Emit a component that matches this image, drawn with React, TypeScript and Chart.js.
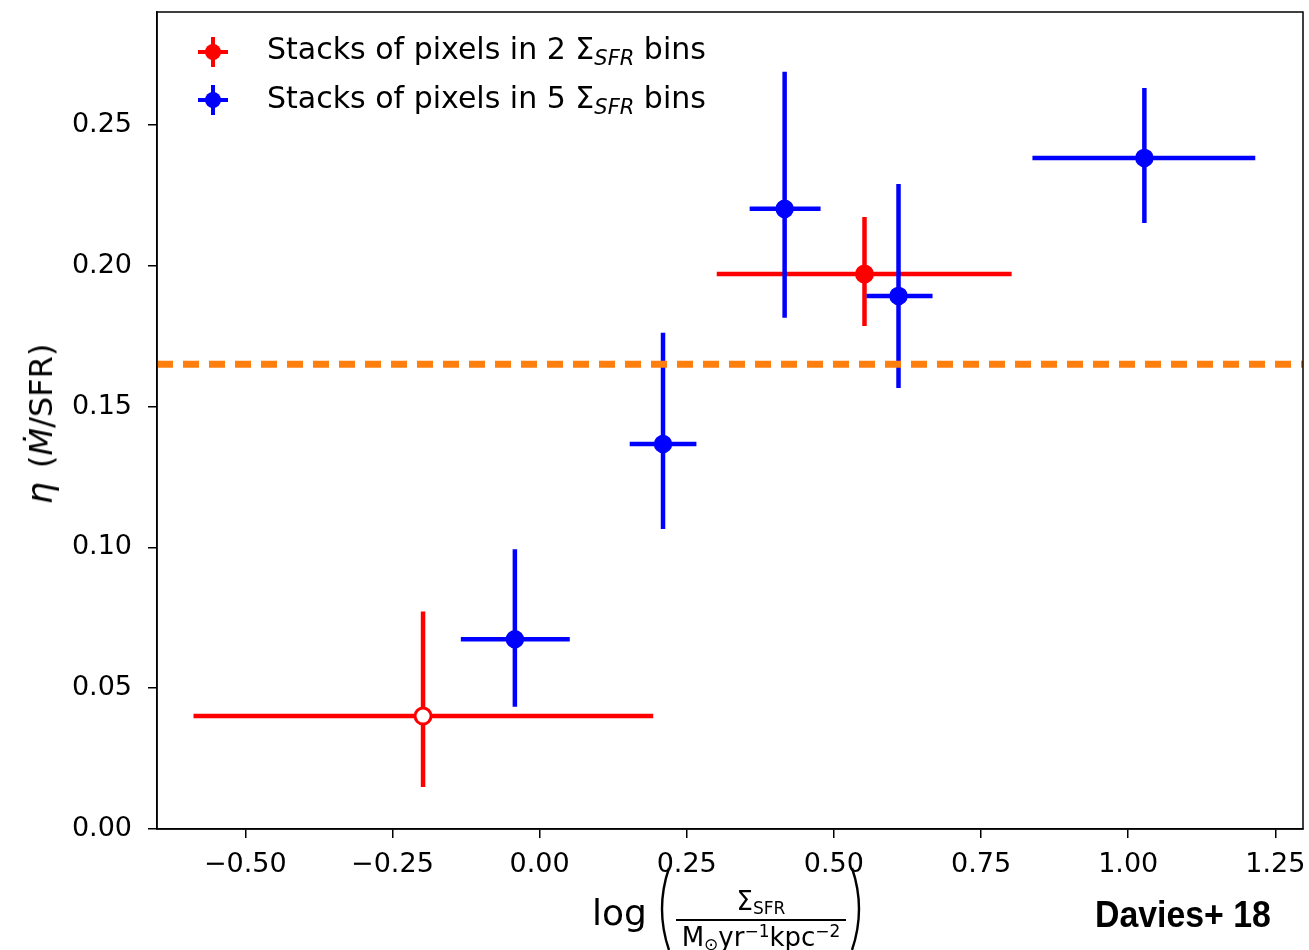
import React, { useEffect, useRef } from "react";
import { Chart, registerables } from "chart.js";

Chart.register(...registerables);

// ---- data ----
const redX = [-0.198, 0.552];
const redY = [0.0401, 0.1971];
const redXLo = [-0.588, 0.301];
const redXHi = [0.193, 0.802];
const redYLo = [0.0149, 0.1786];
const redYHi = [0.0772, 0.2173];
const redOpen = [true, false];

const blueX = [-0.042, 0.2097, 0.4163, 0.6098, 1.0275];
const blueY = [0.0674, 0.1367, 0.2202, 0.1893, 0.2383];
const blueXLo = [-0.1338, 0.1531, 0.3569, 0.5555, 0.8373];
const blueXHi = [0.0513, 0.2664, 0.4774, 0.6676, 1.2159];
const blueYLo = [0.0434, 0.1065, 0.1815, 0.1566, 0.2152];
const blueYHi = [0.0993, 0.1762, 0.2689, 0.229, 0.2631];

const etaRef = 0.165;

const xTicks = [-0.5, -0.25, 0, 0.25, 0.5, 0.75, 1.0, 1.25];
const yTicks = [0, 0.05, 0.1, 0.15, 0.2, 0.25];
const xRange = [-0.65, 1.297];
const yRange = [0, 0.2901];

const RED = "#ff0000";
const BLUE = "#0000ff";
const ORANGE = "#ff7f0e";
const FONT = "'DejaVu Sans', sans-serif";

function errorBars(
  xs: number[], ys: number[], xlo: number[], xhi: number[], ylo: number[], yhi: number[],
  color: string, order: number
) {
  const out: any[] = [];
  xs.forEach((x, i) => {
    const common = {
      showLine: true,
      borderColor: color,
      borderWidth: 4.5,
      pointRadius: 0,
      pointHoverRadius: 0,
      borderCapStyle: "butt",
      order,
    };
    out.push({ ...common, data: [{ x: xlo[i], y: ys[i] }, { x: xhi[i], y: ys[i] }] });
    out.push({ ...common, data: [{ x, y: ylo[i] }, { x, y: yhi[i] }] });
  });
  return out;
}

function fmt(v: number) {
  const s = Math.abs(v).toFixed(2);
  return v < -1e-9 ? "\u2212" + s : s;
}

const framePlugin = {
  id: "frame",
  afterDatasetsDraw(chart: any) {
    const { ctx, chartArea } = chart;
    ctx.save();
    ctx.strokeStyle = "#000";
    ctx.lineWidth = 1.5;
    ctx.strokeRect(chartArea.left, chartArea.top, chartArea.right - chartArea.left, chartArea.bottom - chartArea.top);
    ctx.restore();
  },
};

function LegendMarker({ color, top }: { color: string; top: number }) {
  const cx = 213;
  return (
    <>
      <div style={{ position: "absolute", left: cx - 15, top: top - 2, width: 30, height: 4, background: color }} />
      <div style={{ position: "absolute", left: cx - 2, top: top - 15, width: 4, height: 30, background: color }} />
      <div style={{ position: "absolute", left: cx - 8, top: top - 8, width: 16, height: 16, borderRadius: 8, background: color }} />
    </>
  );
}

function Paren({ left, flip }: { left: number; flip?: boolean }) {
  return (
    <svg style={{ position: "absolute", left, top: 867, overflow: "visible" }} width={16} height={84}>
      <path
        d={flip ? "M 3 1 Q 17 42 3 83" : "M 13 1 Q -1 42 13 83"}
        fill="none"
        stroke="#000"
        strokeWidth={2.4}
      />
    </svg>
  );
}

export default function App() {
  const ref = useRef<HTMLCanvasElement | null>(null);

  useEffect(() => {
    if (!ref.current) return;
    const datasets: any[] = [
      ...errorBars(redX, redY, redXLo, redXHi, redYLo, redYHi, RED, 40),
      {
        data: redX.map((x, i) => ({ x, y: redY[i] })),
        pointRadius: 8,
        pointHoverRadius: 8,
        pointBorderWidth: 3,
        pointBorderColor: RED,
        pointBackgroundColor: redOpen.map((o) => (o ? "#ffffff" : RED)),
        showLine: false,
        order: 30,
      },
      ...errorBars(blueX, blueY, blueXLo, blueXHi, blueYLo, blueYHi, BLUE, 20),
      {
        data: blueX.map((x, i) => ({ x, y: blueY[i] })),
        pointRadius: 8.5,
        pointHoverRadius: 8.5,
        pointBorderWidth: 1.5,
        pointBorderColor: BLUE,
        pointBackgroundColor: BLUE,
        showLine: false,
        order: 10,
      },
      {
        data: [{ x: xRange[0], y: etaRef }, { x: xRange[1], y: etaRef }],
        showLine: true,
        borderColor: ORANGE,
        borderWidth: 7,
        borderDash: [16, 10],
        borderCapStyle: "butt",
        pointRadius: 0,
        pointHoverRadius: 0,
        order: 0,
      },
    ];

    const chart = new Chart(ref.current, {
      type: "scatter",
      data: { datasets },
      options: {
        responsive: false,
        animation: false,
        devicePixelRatio: 1,
        events: [],
        layout: { autoPadding: false, padding: { top: 12, right: 6, left: 0, bottom: 0 } },
        plugins: { legend: { display: false }, tooltip: { enabled: false } },
        scales: {
          x: {
            type: "linear",
            min: xRange[0],
            max: xRange[1],
            afterBuildTicks: (axis: any) => {
              axis.ticks = xTicks.map((v) => ({ value: v }));
            },
            afterFit: (scale: any) => {
              scale.height = 121;
              scale.paddingLeft = 0;
              scale.paddingRight = 0;
            },
            ticks: {
              callback: (v: any) => fmt(Number(v)),
              font: { family: FONT, size: 27 },
              color: "#000",
              padding: 11,
              maxRotation: 0,
              autoSkip: false,
            },
            grid: { drawOnChartArea: false, drawTicks: true, tickLength: 9, color: "#000", lineWidth: 1.5 },
            border: { display: true, color: "#000", width: 1.5 },
          },
          y: {
            type: "linear",
            min: yRange[0],
            max: yRange[1],
            afterBuildTicks: (axis: any) => {
              axis.ticks = yTicks.map((v) => ({ value: v }));
            },
            afterFit: (scale: any) => {
              scale.width = 157;
              scale.paddingTop = 0;
              scale.paddingBottom = 0;
            },
            ticks: {
              callback: (v: any) => fmt(Number(v)),
              font: { family: FONT, size: 27 },
              color: "#000",
              padding: 16,
              autoSkip: false,
            },
            grid: { drawOnChartArea: false, drawTicks: true, tickLength: 9, color: "#000", lineWidth: 1.5 },
            border: { display: true, color: "#000", width: 1.5 },
          },
        },
      },
      plugins: [framePlugin],
    } as any);
    return () => chart.destroy();
  }, []);

  const legendText: React.CSSProperties = {
    position: "absolute",
    left: 267,
    fontFamily: FONT,
    fontSize: 30,
    lineHeight: "30px",
    color: "#000",
    whiteSpace: "nowrap",
  };
  const subSFR: React.CSSProperties = {
    fontStyle: "italic",
    fontSize: 21,
    position: "relative",
    top: 6,
  };

  return (
    <div style={{ position: "fixed", left: 0, top: 0, width: 1309, height: 950, background: "#fff", overflow: "hidden" }}>
      <canvas ref={ref} width={1309} height={950} style={{ position: "absolute", left: 0, top: 0 }} />

      {/* legend */}
      <LegendMarker color={RED} top={52} />
      <LegendMarker color={BLUE} top={100} />
      <div style={{ ...legendText, top: 34 }}>
        Stacks of pixels in 2 Σ<span style={subSFR}>SFR</span> bins
      </div>
      <div style={{ ...legendText, top: 83 }}>
        Stacks of pixels in 5 Σ<span style={subSFR}>SFR</span> bins
      </div>

      {/* y-axis title */}
      <div
        style={{
          position: "absolute",
          left: 40,
          top: 424,
          transform: "translate(-50%, -50%) rotate(-90deg)",
          fontFamily: FONT,
          fontSize: 32,
          whiteSpace: "nowrap",
          color: "#000",
        }}
      >
        <i style={{ fontSize: 35, marginRight: 4 }}>η</i> (<i>{"\u1E40"}</i>/SFR)
      </div>

      {/* x-axis title */}
      <div style={{ position: "absolute", left: 592, top: 895, fontFamily: FONT, fontSize: 36, lineHeight: "36px", color: "#000" }}>
        log
      </div>
      <Paren left={656} />
      <div
        style={{
          position: "absolute",
          left: 676,
          top: 886,
          width: 170,
          fontFamily: FONT,
          color: "#000",
          textAlign: "center",
        }}
      >
        <div style={{ fontSize: 26, lineHeight: "30px", height: 33 }}>
          Σ<span style={{ fontSize: 17, position: "relative", top: 4 }}>SFR</span>
        </div>
        <div style={{ height: 2, background: "#000" }} />
        <div style={{ fontSize: 26, lineHeight: "28px", whiteSpace: "nowrap", marginTop: 2 }}>
          M<span style={{ fontSize: 17, position: "relative", top: 4 }}>⊙</span>yr
          <span style={{ fontSize: 17, position: "relative", top: -9 }}>−1</span>kpc
          <span style={{ fontSize: 17, position: "relative", top: -9 }}>−2</span>
        </div>
      </div>
      <Paren left={849} flip />

      {/* annotation */}
      <div
        style={{
          position: "absolute",
          left: 1095,
          top: 895,
          fontFamily: "'Liberation Sans', Arial, sans-serif",
          fontWeight: "bold",
          fontSize: 36,
          lineHeight: "40px",
          color: "#000",
          transform: "scaleX(0.94)",
          transformOrigin: "left center",
          whiteSpace: "nowrap",
        }}
      >
        Davies+ 18
      </div>
    </div>
  );
}
